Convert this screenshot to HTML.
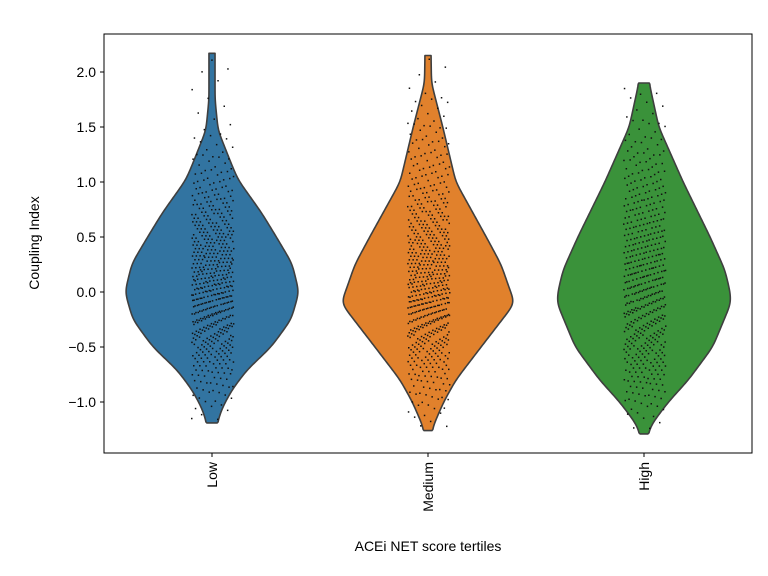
<!DOCTYPE html>
<html><head><meta charset="utf-8"><style>
body{margin:0;background:#fff;}
svg{display:block;font-family:"Liberation Sans",sans-serif;}
</style></head><body>
<svg id="chart" width="768" height="576">
<rect x="0" y="0" width="768" height="576" fill="#fff"/>
<g id="plot"></g>
<rect x="104" y="34" width="648" height="419" fill="none" stroke="#000" stroke-width="1"/>
<g id="axes"></g>
<text x="428" y="551" text-anchor="middle" font-size="14">ACEi NET score tertiles</text>
<text transform="translate(39,243) rotate(-90)" text-anchor="middle" font-size="14">Coupling Index</text>
</svg>
<script>
const categories = ["Low", "Medium", "High"];
const colors = ["#3274a1", "#e1812c", "#3a923a"];
const yTicks = [-1.0, -0.5, 0.0, 0.5, 1.0, 1.5, 2.0];
const yTickLabels = ["\u22121.0", "\u22120.5", "0.0", "0.5", "1.0", "1.5", "2.0"];
// density levels (value) and relative half-widths for each violin
const lowLevels = [-1.19, -1.05, -0.89, -0.71, -0.5, -0.25, 0.0, 0.26, 0.5, 0.72, 1.02, 1.17, 1.47, 1.75, 2.05, 2.17];
const lowWidths = [0.06, 0.12, 0.23, 0.40, 0.68, 0.91, 1.0, 0.92, 0.74, 0.57, 0.30, 0.22, 0.07, 0.035, 0.035, 0.035];
const medLevels = [-1.26, -1.2, -1.0, -0.8, -0.5, -0.1, 0.0, 0.25, 0.5, 1.0, 1.5, 1.9, 2.15];
const medWidths = [0.045, 0.07, 0.18, 0.32, 0.61, 1.0, 0.95, 0.84, 0.67, 0.32, 0.17, 0.04, 0.035];
const highLevels = [-1.29, -1.2, -1.0, -0.8, -0.5, -0.1, 0.0, 0.2, 0.5, 1.0, 1.5, 1.9];
const highWidths = [0.045, 0.09, 0.28, 0.51, 0.79, 1.0, 0.99, 0.93, 0.76, 0.45, 0.17, 0.06];
const levelSets = [lowLevels, medLevels, highLevels];
const widthSets = [lowWidths, medWidths, highWidths];
const pointCounts = [560, 600, 500];

const NS = "http://www.w3.org/2000/svg";
const X0 = 104, X1 = 752, Y0 = 34, Y1 = 453;
function yScale(v){ return 292 - 110 * v; }
function xScale(i){ return X0 + (X1 - X0) * (i + 0.5) / categories.length; }
const maxHalf = 87;
const plot = document.getElementById('plot');
const axes = document.getElementById('axes');

function mk(tag, attrs){ const e = document.createElementNS(NS, tag); for (const k in attrs) e.setAttribute(k, attrs[k]); return e; }

function sampleCurve(levels, widths){
  const step = 0.01, lo = levels[0], hi = levels[levels.length - 1];
  const vs = [], ws = [];
  let k = 0;
  for (let v = lo; v <= hi + 1e-9; v += step){
    while (k < levels.length - 2 && v > levels[k + 1]) k++;
    const f = Math.min(1, Math.max(0, (v - levels[k]) / (levels[k + 1] - levels[k])));
    vs.push(v); ws.push(widths[k] + f * (widths[k + 1] - widths[k]));
  }
  const sig = 5, R = 12, out = [];
  for (let i = 0; i < ws.length; i++){
    let s = 0, wt = 0;
    for (let j = -R; j <= R; j++){
      const idx = Math.min(ws.length - 1, Math.max(0, i + j));
      const g = Math.exp(-j * j / (2 * sig * sig));
      s += ws[idx] * g; wt += g;
    }
    out.push([vs[i], Math.max(s / wt, 0.02)]);
  }
  out[0][1] = widths[0]; out[out.length - 1][1] = widths[widths.length - 1];
  return out;
}

categories.forEach((cat, i) => {
  const cx = xScale(i);
  const curve = sampleCurve(levelSets[i], widthSets[i]);
  let d = "";
  curve.forEach((p, k) => { d += (k ? "L" : "M") + (cx + p[1] * maxHalf).toFixed(2) + "," + yScale(p[0]).toFixed(2); });
  for (let k = curve.length - 1; k >= 0; k--){ const p = curve[k]; d += "L" + (cx - p[1] * maxHalf).toFixed(2) + "," + yScale(p[0]).toFixed(2); }
  d += "Z";
  const path = mk('path', {d: d, fill: colors[i], stroke: "#3f3f3f", "stroke-width": 1.6, "stroke-linejoin": "round"});
  
  
  plot.appendChild(path);

  const cdf = [0]; let tot = 0;
  for (let k = 1; k < curve.length; k++){ tot += (curve[k][0] - curve[k-1][0]) * (curve[k][1] + curve[k-1][1]) / 2; cdf.push(tot); }
  const g = mk('g', {fill: "#111"});
  
  
  const N = pointCounts[i];
  for (let j = 0; j < N; j++){
    const u = ((j + 0.5) / N * tot);
    let k = 1; while (k < cdf.length - 1 && cdf[k] < u) k++;
    const f = (u - cdf[k-1]) / Math.max(1e-9, cdf[k] - cdf[k-1]);
    const v = curve[k-1][0] + f * (curve[k][0] - curve[k-1][0]);
    const jit = ((j * 0.6180339887 + i * 0.31) % 1) * 2 - 1;
    const yj = (((j * 0.7548776662 + j * j * 0.0001371) % 1) - 0.5) * 6;
    const c = mk('rect', {x: (cx + jit * 21).toFixed(1), y: (yScale(v) + yj).toFixed(1), width: 1.5, height: 1.5});
    g.appendChild(c);
  }
  plot.appendChild(g);

  const tick = mk('line', {x1: cx, x2: cx, y1: Y1, y2: Y1 + 4, stroke: "#000"});
  
  
  axes.appendChild(tick);
  const lab = mk('text', {transform: "translate(" + (cx + 5) + "," + (Y1 + 9) + ") rotate(-90)", "text-anchor": "end", "font-size": 14});
  lab.textContent = cat;
  
  
  axes.appendChild(lab);
});

yTicks.forEach((v, i) => {
  const y = yScale(v);
  const t = mk('line', {x1: X0 - 4, x2: X0, y1: y, y2: y, stroke: "#000"});
  
  
  axes.appendChild(t);
  const lab = mk('text', {x: X0 - 8, y: y + 5, "text-anchor": "end", "font-size": 14});
  lab.textContent = yTickLabels[i];
  
  
  axes.appendChild(lab);
});
</script>
</body></html>
